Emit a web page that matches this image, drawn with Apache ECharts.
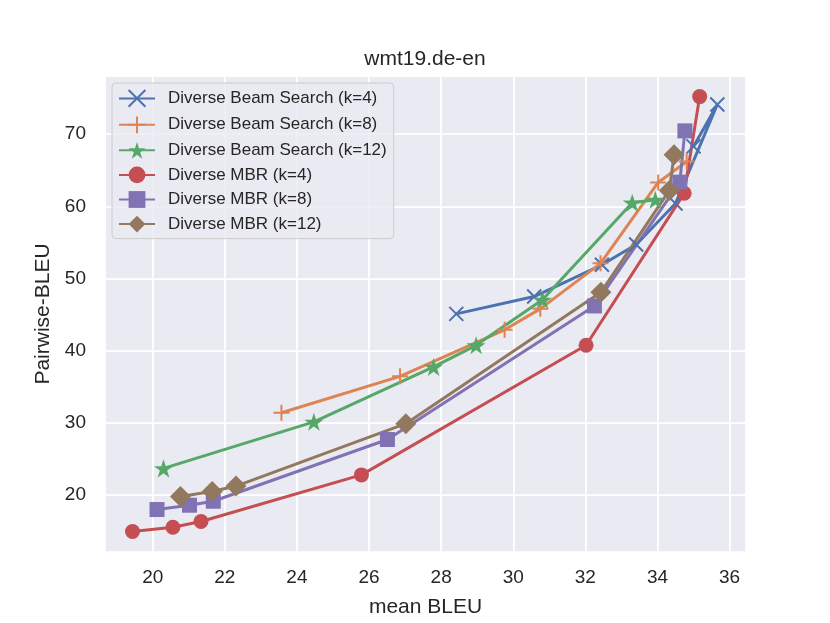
<!DOCTYPE html>
<html>
<head>
<meta charset="utf-8">
<script src="https://cdn.jsdelivr.net/npm/echarts@6/dist/echarts.min.js"></script>
<style>
html, body { margin: 0; padding: 0; background: #fff; }
#chart { width: 830px; height: 623px; }
</style>
</head>
<body>
<div id="chart"></div>
<script>
// values: mean BLEU (x) / Pairwise-BLEU (y)
var bs4X = [28.42, 30.58, 32.46, 33.41, 34.5, 35.66, 35.0];
var bs4Y = [45.1, 47.5, 51.9, 54.7, 60.4, 74.1, 68.3];
var bs8X = [23.57, 26.86, 29.76, 30.75, 32.42, 34.02, 34.81];
var bs8Y = [31.4, 36.45, 42.9, 45.8, 52.1, 63.3, 66.2];
var bs12X = [20.3, 24.47, 27.79, 28.97, 30.81, 33.3, 33.94];
var bs12Y = [23.7, 30.15, 37.75, 40.75, 47.05, 60.5, 60.9];
var mbr4X = [19.44, 20.56, 21.34, 25.79, 32.02, 34.74, 35.17];
var mbr4Y = [14.95, 15.55, 16.35, 22.8, 40.75, 61.8, 75.2];
var mbr8X = [20.12, 21.02, 21.68, 26.51, 32.25, 34.62, 34.76];
var mbr8Y = [18.0, 18.6, 19.15, 27.7, 46.2, 63.35, 70.45];
var mbr12X = [20.77, 21.65, 22.31, 27.02, 32.43, 34.33, 34.46];
var mbr12Y = [19.8, 20.5, 21.25, 29.9, 48.1, 62.2, 67.15];

var names = ['Diverse Beam Search (k=4)', 'Diverse Beam Search (k=8)', 'Diverse Beam Search (k=12)',
             'Diverse MBR (k=4)', 'Diverse MBR (k=8)', 'Diverse MBR (k=12)'];
var colors = ['#4C72B0', '#DD8452', '#55A868', '#C44E52', '#8172B3', '#937860'];

// marker shapes (x and + are stroked, the rest filled)
var xPath = 'path://M0,0L10,10M0,10L10,0';
var plusPath = 'path://M5,0L5,10M0,5L10,5';
var starPath = 'path://M0,-10L2.245,-3.09L9.511,-3.09L3.633,1.18L5.878,8.09L0,3.82L-5.878,8.09L-3.633,1.18L-9.511,-3.09L-2.245,-3.09Z';

function pairs(xs, ys) {
    var out = [];
    for (var i = 0; i < xs.length; i++) {
        out.push([xs[i], ys[i]]);
    }
    return out;
}

function makeSeries(idx, xs, ys, symbol, size, stroked) {
    return {
        name: names[idx],
        type: 'line',
        data: pairs(xs, ys),
        symbol: symbol,
        symbolSize: size,
        symbolKeepAspect: true,
        showAllSymbol: true,
        animation: false,
        color: colors[idx],
        lineStyle: { width: 3, color: colors[idx] },
        itemStyle: stroked
            ? { color: colors[idx], borderColor: colors[idx], borderWidth: 2 }
            : { color: colors[idx], borderWidth: 0 },
        emphasis: { disabled: true }
    };
}

var txt = '#262626';
var font = 'Liberation Sans, Arial, Helvetica, sans-serif';

var myChart = echarts.init(document.getElementById('chart'));
var option = {
    backgroundColor: '#ffffff',
    textStyle: { fontFamily: font },
    title: {
        text: 'wmt19.de-en',
        left: 425,
        textAlign: 'center',
        top: 49,
        padding: 0,
        textStyle: { fontSize: 21, fontWeight: 'normal', color: txt, fontFamily: font }
    },
    grid: {
        left: 105, right: 84, top: 76, bottom: 70,
        show: true, backgroundColor: '#EAEAF2', borderWidth: 0
    },
    legend: {
        data: names,
        orient: 'vertical',
        left: 112,
        top: 83,
        padding: [6, 7, 6, 6],
        itemGap: 7.6,
        itemWidth: 36,
        itemHeight: 21,
        backgroundColor: 'rgba(234,234,242,0.8)',
        borderColor: '#cccccc',
        borderWidth: 1,
        borderRadius: 4,
        textStyle: { fontSize: 17, color: txt, fontFamily: font, padding: [0, 0, 0, 8] }
    },
    xAxis: {
        type: 'value',
        min: 18.677,
        max: 36.455,
        splitNumber: 9,
        name: 'mean BLEU',
        nameLocation: 'middle',
        nameGap: 45,
        nameTextStyle: { fontSize: 21, color: txt, fontFamily: font },
        axisLine: { show: false },
        axisTick: { show: false },
        axisLabel: { fontSize: 19, color: txt, margin: 16, showMinLabel: false, showMaxLabel: false, fontFamily: font },
        splitLine: { lineStyle: { color: '#ffffff', width: 1.75 } }
    },
    yAxis: {
        type: 'value',
        min: 12.12,
        max: 78.05,
        splitNumber: 6,
        name: 'Pairwise-BLEU',
        nameLocation: 'middle',
        nameGap: 45,
        nameTextStyle: { fontSize: 21, color: txt, fontFamily: font },
        axisLine: { show: false },
        axisTick: { show: false },
        axisLabel: { fontSize: 19, color: txt, margin: 19, showMinLabel: false, showMaxLabel: false, fontFamily: font },
        splitLine: { lineStyle: { color: '#ffffff', width: 1.75 } }
    },
    series: [
        makeSeries(0, bs4X, bs4Y, xPath, 14, true),
        makeSeries(1, bs8X, bs8Y, plusPath, 16, true),
        makeSeries(2, bs12X, bs12Y, starPath, 19, false),
        makeSeries(3, mbr4X, mbr4Y, 'circle', 15, false),
        makeSeries(4, mbr8X, mbr8Y, 'rect', 15, false),
        makeSeries(5, mbr12X, mbr12Y, 'diamond', 21, false)
    ]
};
myChart.setOption(option);
</script>
</body>
</html>
